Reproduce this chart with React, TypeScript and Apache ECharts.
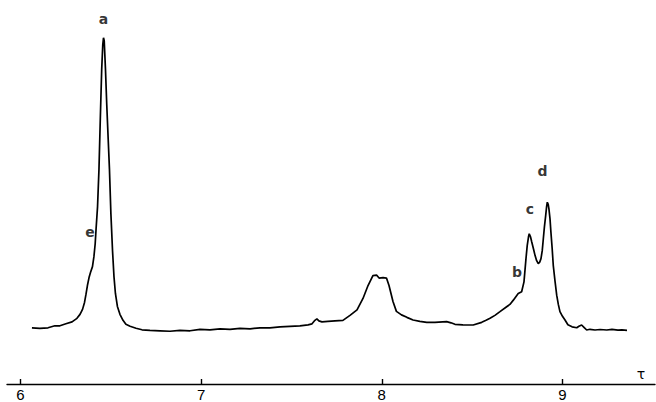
import React, { useEffect, useRef } from "react";
import * as echarts from "echarts";

// chemical shift (tau, ppm)
const tau: number[] = [
  6.064, 6.108, 6.153, 6.191, 6.219, 6.252, 6.286, 6.313, 6.330, 6.344,
  6.355, 6.363, 6.371, 6.380, 6.388, 6.399, 6.407, 6.414, 6.419, 6.427,
  6.435, 6.443, 6.450, 6.456, 6.460, 6.464, 6.471, 6.478, 6.486, 6.493,
  6.501, 6.510, 6.518, 6.526, 6.537, 6.551, 6.568, 6.584, 6.607, 6.640,
  6.673, 6.717, 6.773, 6.828, 6.883, 6.939, 6.994, 7.049, 7.105, 7.160,
  7.215, 7.271, 7.326, 7.381, 7.437, 7.492, 7.547, 7.592, 7.614, 7.630,
  7.641, 7.652, 7.669, 7.702, 7.741, 7.785, 7.824, 7.863, 7.896, 7.924,
  7.951, 7.971, 7.985, 8.007, 8.026, 8.040, 8.051, 8.062, 8.081, 8.109,
  8.139, 8.173, 8.211, 8.249, 8.294, 8.359, 8.383, 8.405, 8.449, 8.506,
  8.553, 8.577, 8.599, 8.626, 8.654, 8.691, 8.709, 8.728, 8.743, 8.755,
  8.774, 8.787, 8.798, 8.805, 8.812, 8.816, 8.823, 8.830, 8.840, 8.848,
  8.857, 8.866, 8.874, 8.881, 8.888, 8.894, 8.900, 8.907, 8.912, 8.916,
  8.921, 8.925, 8.931, 8.936, 8.943, 8.949, 8.959, 8.968, 8.977, 8.986,
  9.000, 9.014, 9.030, 9.053, 9.079, 9.091, 9.106, 9.119, 9.134, 9.152,
  9.180, 9.208, 9.245, 9.274, 9.307, 9.329, 9.357,
];

// signal intensity (arbitrary units, baseline ~ 0)
const intensity: number[] = [
  2.5, 2, 2.5, 4.5, 4.5, 6.5, 8.5, 12, 16, 21,
  28, 36, 45, 53, 58, 64, 74, 87, 102, 124,
  162, 217, 262, 287, 294, 291, 262, 227, 192, 162,
  117, 80, 54, 37, 24, 16, 10, 6, 4, 2,
  0.5, 0, -0.5, -1, 0, -0.5, 1, 0.5, 1.5, 1,
  2, 1.5, 2.5, 2.5, 3.5, 4, 4.5, 5.5, 6.5, 10,
  11.5, 9.5, 8.5, 9, 9.5, 10, 15, 20.5, 32, 45,
  55, 55.5, 52.5, 53, 52.5, 45, 37, 29, 19, 15.5,
  13, 10.3, 9, 8, 8, 8.7, 7.5, 6, 5.5, 5.3,
  8, 10, 12, 15, 18.7, 23.7, 26, 30.3, 34, 37,
  38.7, 48.7, 72, 85.3, 94, 97, 94, 88.7, 81.5, 75.3,
  70, 67, 68.5, 72, 80, 92, 104, 115.3, 124, 128.7,
  126.5, 122, 112, 98.7, 82, 65.3, 49, 35.3, 26, 18.7,
  14, 10.3, 5.5, 3.5, 2.5, 4, 5.3, 3, 0.3, 1,
  0.3, 0.8, 0.3, 1, 0.2, 0.5, 0,
];

const tickValues: number[] = [6, 7, 8, 9];

const peakNames: string[] = ["a", "e", "b", "c", "d"];
const peakTau: number[] = [6.46, 6.385, 8.748, 8.82, 8.89];
const peakLabelLevel: number[] = [313, 99, 59, 122, 160];

export default function App() {
  const ref = useRef<HTMLDivElement>(null);

  useEffect(() => {
    if (!ref.current) return;
    const chart = echarts.init(ref.current, null, { renderer: "svg" });
    const lineData = tau.map((t, i) => [t, intensity[i]]);
    const labelData = peakNames.map((n, i) => ({
      value: [peakTau[i], peakLabelLevel[i]],
      name: n,
    }));
    chart.setOption({
      animation: false,
      backgroundColor: "#ffffff",
      grid: { left: 7, right: 1, top: 0, bottom: 16, containLabel: false },
      xAxis: {
        type: "value",
        min: 5.926,
        max: 9.512,
        name: "τ",
        nameLocation: "end",
        nameGap: -14,
        nameTextStyle: {
          color: "#000",
          fontSize: 14,
          fontFamily: "DejaVu Sans",
          align: "center",
          verticalAlign: "bottom",
          padding: [0, 0, 3, 0],
        },
        splitLine: { show: false },
        axisLine: {
          show: true,
          onZero: false,
          lineStyle: { color: "#000", width: 1.4 },
        },
        axisTick: {
          show: true,
          inside: true,
          length: 5,
          customValues: tickValues,
          lineStyle: { color: "#000", width: 1.4 },
        },
        axisLabel: {
          show: true,
          customValues: tickValues,
          margin: 3,
          color: "#000",
          fontSize: 15,
          fontFamily: "Liberation Sans",
        },
      },
      yAxis: {
        type: "value",
        show: false,
        min: -54,
        max: 332,
        splitLine: { show: false },
      },
      series: [
        {
          type: "line",
          data: lineData,
          showSymbol: false,
          symbol: "none",
          lineStyle: { color: "#000", width: 1.7 },
          z: 3,
        },
        {
          type: "scatter",
          data: labelData,
          symbolSize: 1,
          itemStyle: { color: "rgba(0,0,0,0)" },
          label: {
            show: true,
            position: "inside",
            formatter: (p: any) => p.name,
            color: "#000",
            fontSize: 14,
            fontWeight: "bold",
            fontFamily: "DejaVu Sans",
          },
          z: 4,
        },
      ],
    });
    return () => chart.dispose();
  }, []);

  return (
    <div
      ref={ref}
      style={{ position: "fixed", left: 0, top: 0, width: 656, height: 402 }}
    />
  );
}
